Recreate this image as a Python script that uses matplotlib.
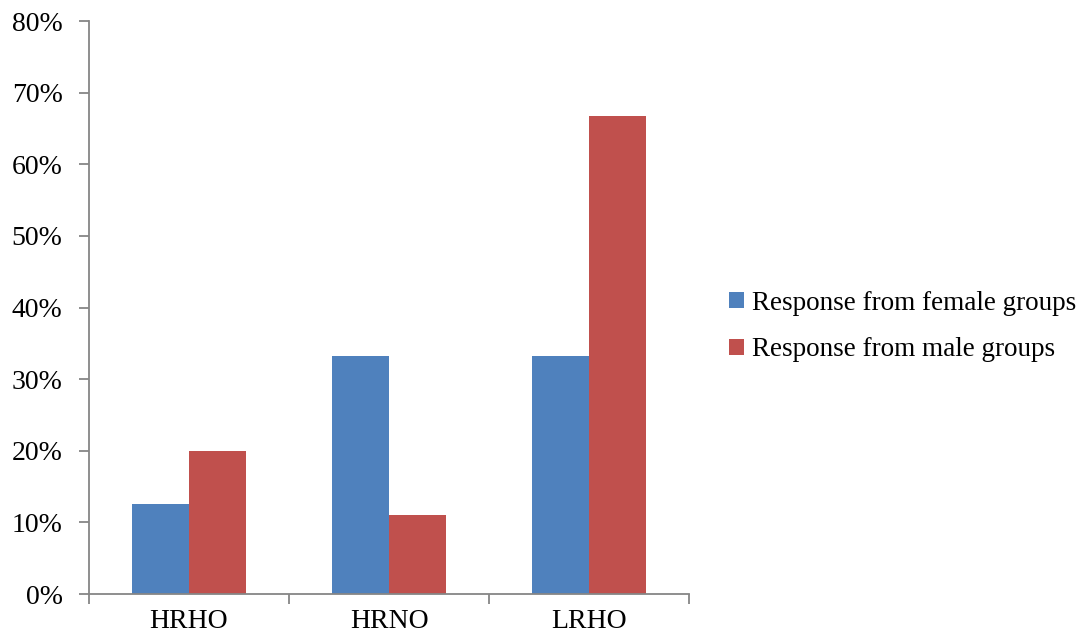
import numpy as np
import matplotlib
matplotlib.use('Agg')
import matplotlib.pyplot as plt
from matplotlib.ticker import FuncFormatter

categories = ['HRHO', 'HRNO', 'LRHO']
female = [12.5, 33.3, 33.3]
male = [20.0, 11.1, 66.7]
series_labels = ['Response from female groups', 'Response from male groups']

plt.rcParams['font.family'] = ['Liberation Serif', 'DejaVu Serif']
axis_col = '#868686'
fs = 20

fig = plt.figure(figsize=(10.92, 6.39), dpi=100)
ax = fig.add_axes([0.0815, 0.0704, 0.5495, 0.8967])

x = np.arange(len(categories))
w = 0.285
b1 = ax.bar(x - w / 2, female, w, color='#4F81BD', label=series_labels[0])
b2 = ax.bar(x + w / 2, male, w, color='#C0504D', label=series_labels[1])

ax.set_xlim(-0.5, 2.5)
ax.set_ylim(0, 80)
ax.set_yticks(np.arange(0, 81, 10))
ax.yaxis.set_major_formatter(FuncFormatter(lambda v, p: '%d%%' % v))
ax.set_xticks(x)
ax.set_xticklabels(categories)
ax.set_xticks(np.arange(-0.5, 3, 1), minor=True)
ax.tick_params(axis='x', which='major', length=0, pad=11, labelsize=fs)
ax.tick_params(axis='x', which='minor', length=7, color=axis_col, width=1.3)
ax.tick_params(axis='y', length=7, color=axis_col, width=1.3, labelsize=fs, pad=12)

for s in ['top', 'right']:
    ax.spines[s].set_visible(False)
for s in ['left', 'bottom']:
    ax.spines[s].set_color(axis_col)
    ax.spines[s].set_linewidth(1.3)

fig.legend(handles=[b1, b2], loc='center left', bbox_to_anchor=(0.668, 0.489),
           frameon=False, fontsize=19.5, handlelength=0.55, handleheight=0.55,
           handletextpad=0.3, labelspacing=0.8, borderpad=0, borderaxespad=0)

fig.savefig('out.png', dpi=100)
